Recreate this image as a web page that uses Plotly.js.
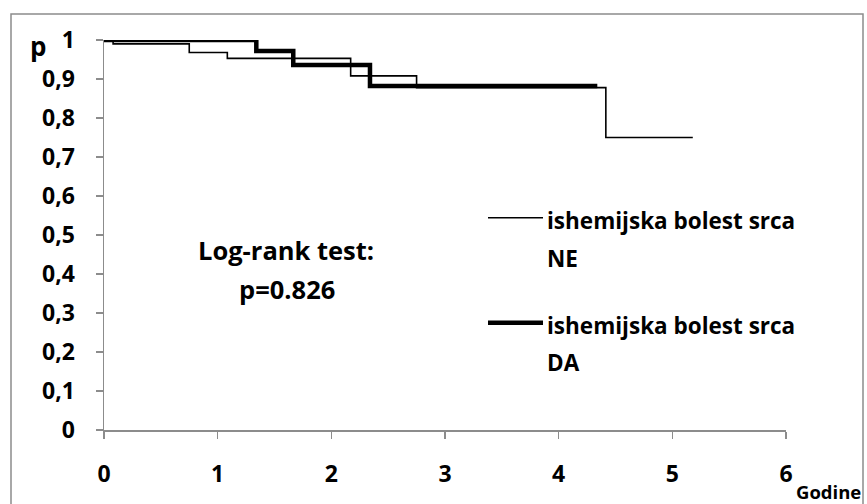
<!DOCTYPE html>
<html><head><meta charset="utf-8">
<script src="https://cdn.plot.ly/plotly-3.0.1.min.js"></script>
<style>html,body{margin:0;padding:0;background:#fff}#c{width:867px;height:504px}</style>
</head><body><div id="c"></div>
<script>
// Kaplan-Meier step data
const neTimes = [0, 0.08, 0.75, 1.085, 2.17, 2.75, 4.415, 5.18];
const neSurv  = [1, 0.99, 0.968, 0.953, 0.908, 0.878, 0.75, 0.75];
const daTimes = [0, 1.34, 1.665, 2.34, 4.34];
const daSurv  = [1, 0.972, 0.936, 0.882, 0.882];
const yTickVals = [0,0.1,0.2,0.3,0.4,0.5,0.6,0.7,0.8,0.9,1];
const yTickText = ["0","0,1","0,2","0,3","0,4","0,5","0,6","0,7","0,8","0,9","1"];
const xTickVals = [0,1,2,3,4,5,6];
const legendLine1 = "ishemijska bolest srca";
const seriesNames = ["NE","DA"];

const F = "'Open Sans', Lato, sans-serif";
const grey = "#8c8c8c";
const L = 104, R = 81, T = 40, B = 74, W = 867 - L - R, H = 504 - T - B;
const px = v => (v - L) / W;
const py = v => (504 - B - v) / H;

const traces = [
  {x: neTimes, y: neSurv, mode: "lines", line: {shape: "hv", color: "#000", width: 1.6}, name: legendLine1 + " " + seriesNames[0], showlegend: false, hoverinfo: "skip"},
  {x: daTimes, y: daSurv, mode: "lines", line: {shape: "hv", color: "#000", width: 4.5}, name: legendLine1 + " " + seriesNames[1], showlegend: false, hoverinfo: "skip"}
];

const tf = {family: F, size: 23, color: "#000", weight: 700};
const ann = (text, x, y, size, xanchor) => ({text: "<b>" + text + "</b>", x: px(x), y: py(y), xref: "paper", yref: "paper", showarrow: false, xanchor: xanchor || "center", yanchor: "middle", font: {family: F, size: size, color: "#000", weight: 700}});

const layout = {
  width: 867, height: 504,
  margin: {l: L, r: R, t: T, b: B},
  paper_bgcolor: "#fff", plot_bgcolor: "#fff",
  showlegend: false,
  xaxis: {range: [0, 6], tickvals: xTickVals, ticktext: xTickVals.map(String), showgrid: false, zeroline: false,
          showline: true, linecolor: grey, linewidth: 1.5, ticks: "outside", ticklen: 7, tickwidth: 1.5, tickcolor: grey,
          tickfont: tf, ticklabelstandoff: 16, fixedrange: true},
  yaxis: {range: [0, 1], tickvals: yTickVals, ticktext: yTickText, showgrid: false, zeroline: false,
          showline: true, linecolor: grey, linewidth: 1.5, ticks: "outside", ticklen: 7, tickwidth: 1.5, tickcolor: grey,
          tickfont: tf, ticklabelstandoff: 16, fixedrange: true},
  shapes: [
    {type: "rect", xref: "paper", yref: "paper", x0: px(11), x1: px(863), y0: py(520), y1: py(14), line: {color: grey, width: 1.5}},
    {type: "line", xref: "paper", yref: "paper", x0: px(488), x1: px(543), y0: py(217.7), y1: py(217.7), line: {color: "#000", width: 1.6}},
    {type: "line", xref: "paper", yref: "paper", x0: px(488), x1: px(543), y0: py(322.7), y1: py(322.7), line: {color: "#000", width: 4.5}}
  ],
  annotations: [
    ann("p", 38, 46, 26),
    ann("Godine", 828, 492, 18.5),
    ann("Log-rank test:", 285.5, 250, 25.5),
    ann("p=0.826", 286.5, 289, 25.5),
    ann(legendLine1, 545, 220, 22.5, "left"),
    ann(seriesNames[0], 545, 258, 22.5, "left"),
    ann(legendLine1, 545, 325, 22.5, "left"),
    ann(seriesNames[1], 545, 362, 22.5, "left")
  ]
};
Plotly.newPlot("c", traces, layout, {staticPlot: true, displayModeBar: false});
</script></body></html>
